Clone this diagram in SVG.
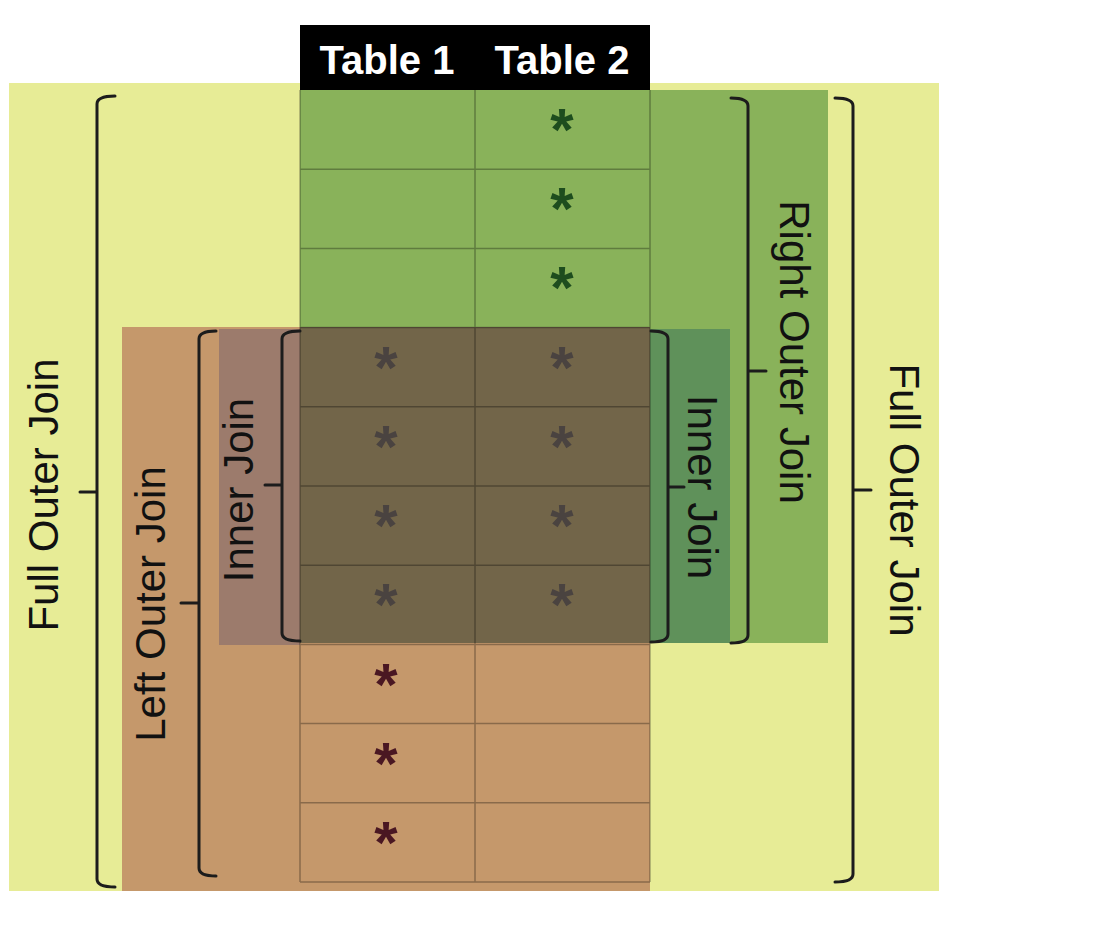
<svg xmlns="http://www.w3.org/2000/svg" width="1120" height="927" viewBox="0 0 1120 927">
<style>
.grid{stroke:#000;stroke-opacity:0.3;stroke-width:1.5;fill:none}
.brace{stroke:#1c1c1c;stroke-width:3;fill:none;stroke-linecap:round;stroke-linejoin:round}
.hdr{font-family:"Liberation Sans",Arial,sans-serif;font-weight:bold;font-size:40px;fill:#fff;text-anchor:middle}
.lbl{font-family:"Liberation Sans",Arial,sans-serif;font-size:42px;fill:#111;text-anchor:middle}
.ast{font-family:"Liberation Sans",Arial,sans-serif;font-weight:bold;font-size:60px;text-anchor:middle}
.ag{fill:#1E4D1E}.ao{fill:#4A4340}.at{fill:#4A1722}
</style>
<rect width="1120" height="927" fill="#fff"/>
<g id="full-outer-area"><rect x="9" y="83" width="930" height="808" fill="#E7EC96"/></g>
<g id="right-outer-area"><rect x="300" y="90" width="528" height="553" fill="#89B25A"/></g>
<g id="left-outer-area"><rect x="122" y="327" width="528" height="564" fill="#C5986B"/></g>
<g id="inner-left-area"><rect x="219" y="329" width="81" height="316" fill="#9C7B6C"/></g>
<g id="inner-right-area"><rect x="650" y="329" width="80" height="314" fill="#5F915A"/></g>
<g id="overlap-area"><rect x="300" y="327" width="350" height="316" fill="#726549"/></g>
<g id="table-grid">
<path class="grid" d="M300,90V882M475,90V882M650,90V882M300,169.2H650M300,248.4H650M300,327.6H650M300,406.8H650M300,486H650M300,565.2H650M300,644.4H650M300,723.6H650M300,802.8H650M300,882H650"/>
</g>
<g id="header">
<rect x="300" y="25" width="350" height="65" fill="#000"/>
<text class="hdr" x="387" y="74">Table 1</text>
<text class="hdr" x="562" y="74">Table 2</text>
</g>
<g id="asterisks">
<text class="ast ag" x="562" y="150">*</text>
<text class="ast ag" x="562" y="229">*</text>
<text class="ast ag" x="562" y="308">*</text>
<text class="ast ao" x="386" y="388">*</text>
<text class="ast ao" x="562" y="388">*</text>
<text class="ast ao" x="386" y="467">*</text>
<text class="ast ao" x="562" y="467">*</text>
<text class="ast ao" x="386" y="546">*</text>
<text class="ast ao" x="562" y="546">*</text>
<text class="ast ao" x="386" y="625">*</text>
<text class="ast ao" x="562" y="625">*</text>
<text class="ast at" x="386" y="705">*</text>
<text class="ast at" x="386" y="784">*</text>
<text class="ast at" x="386" y="863">*</text>
</g>
<g id="connectors">
<path class="brace" d="M115,96 Q97,96 97,104 L97,879 Q97,887 115,887 M97,492 L80,492"/>
<path class="brace" d="M216,331 Q199,331 199,339 L199,868 Q199,876 216,876 M199,603 L181,603"/>
<path class="brace" d="M300,331 Q282,331 282,339 L282,633 Q282,641 300,641 M282,485 L265,485"/>
<path class="brace" d="M651,331 Q668,331 668,339 L668,634 Q668,642 651,642 M668,487 L684,487"/>
<path class="brace" d="M731,98 Q748,98 748,106 L748,635 Q748,643 731,643 M748,371 L766,371"/>
<path class="brace" d="M835,98 Q853,98 853,106 L853,874 Q853,882 835,882 M853,490 L871,490"/>
</g>
<g id="labels">
<text class="lbl" transform="translate(58,495) rotate(-90)">Full Outer Join</text>
<text class="lbl" transform="translate(165,604) rotate(-90)">Left Outer Join</text>
<text class="lbl" transform="translate(253,490) rotate(-90)">Inner Join</text>
<text class="lbl" transform="translate(688,487) rotate(90)">Inner Join</text>
<text class="lbl" transform="translate(780,352) rotate(90)">Right Outer Join</text>
<text class="lbl" transform="translate(890,500) rotate(90)">Full Outer Join</text>
</g>
</svg>
